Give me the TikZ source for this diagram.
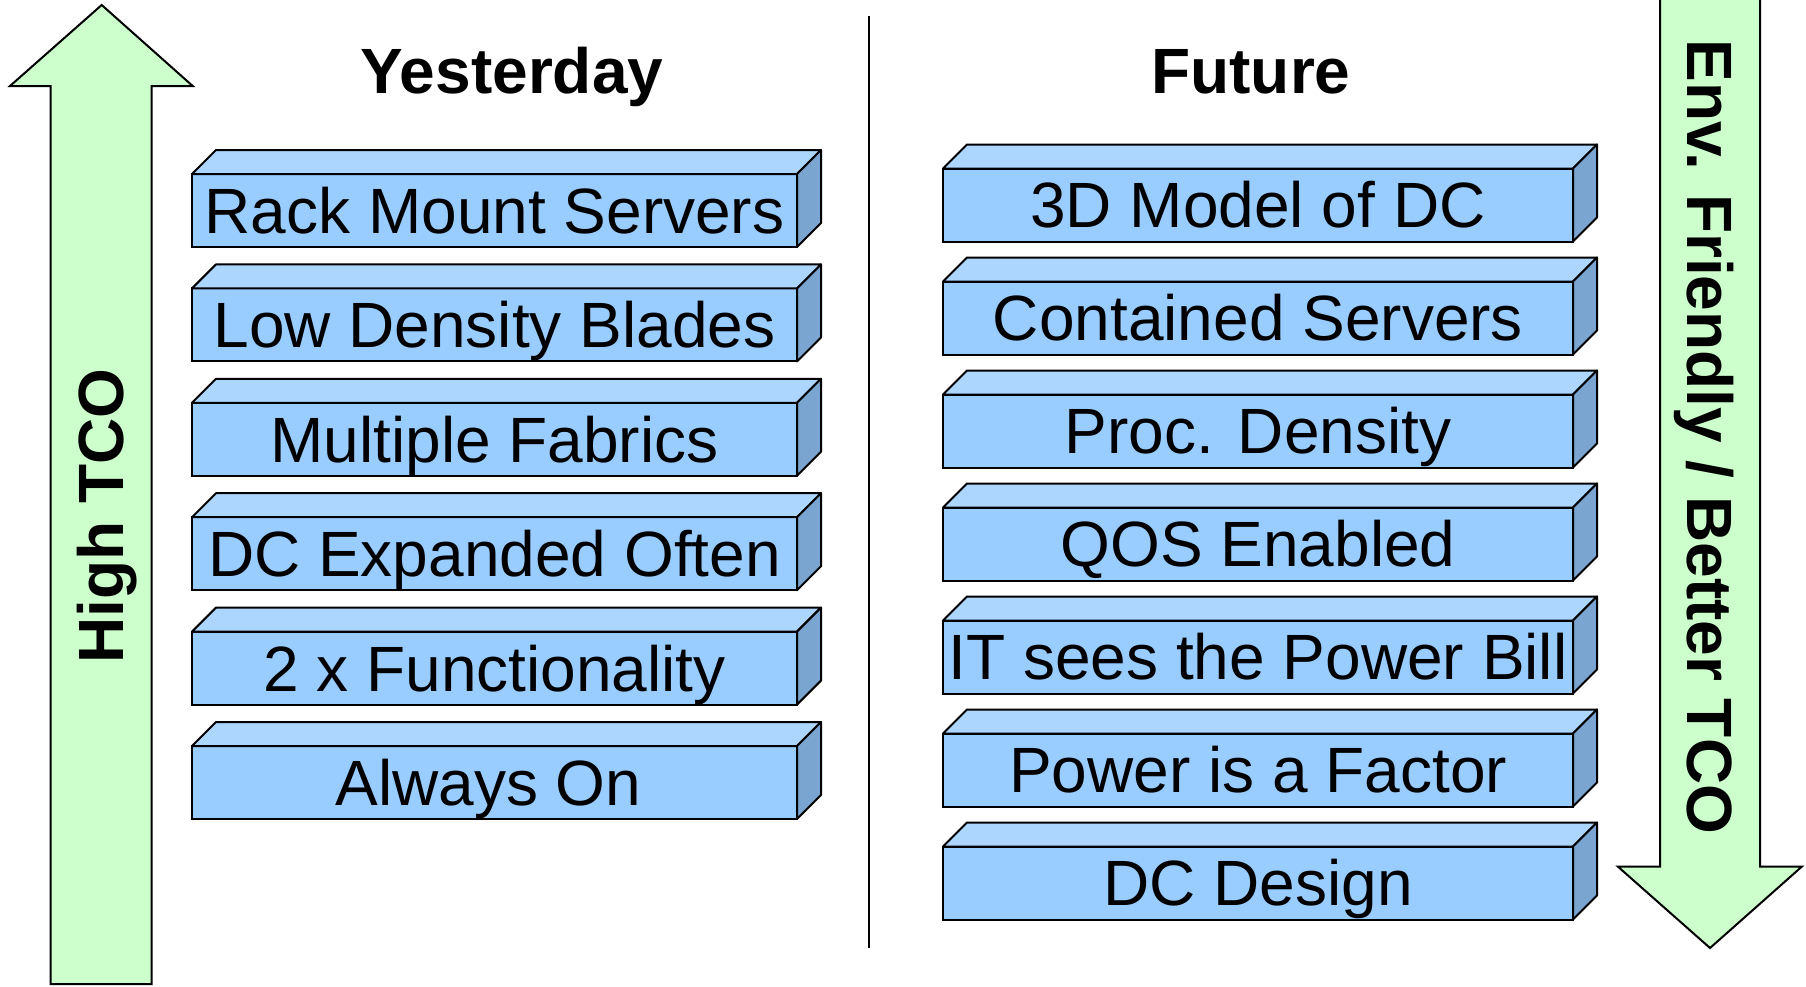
\documentclass[tikz,border=0pt]{standalone}
\usepackage{fontspec}
\setmainfont{Liberation Sans}
\usetikzlibrary{calc}
\definecolor{slabfront}{HTML}{99CCFF}
\definecolor{slabtop}{HTML}{ADD6FF}
\definecolor{slabside}{HTML}{7AA5D0}
\definecolor{arrowfill}{HTML}{CCFFCC}
\tikzset{
  slab/.style={draw, line width=2pt, fill=slabfront, rectangle, outer sep=0pt,
    inner sep=0pt, minimum height=73pt, text height=45.8pt, text depth=0pt,
    font=\fontsize{64}{70}\selectfont},
  slabtopface/.style={draw, line width=2pt, fill=slabtop, line join=round},
  slabsideface/.style={draw, line width=2pt, fill=slabside, line join=round},
  bigarrow/.style={draw, line width=2pt, fill=arrowfill, line join=miter},
  heading/.style={font=\fontsize{64}{70}\selectfont\bfseries, inner sep=0pt, anchor=base},
  arrowlabel/.style={font=\fontsize{64}{70}\selectfont\bfseries, inner sep=0pt,
    text height=45.8pt, text depth=0pt},
  divider/.style={line width=1.6pt}
}
% draws the top and side faces of a slab behind its front node
\newcommand{\slabdepth}[1]{%
  \draw[slabtopface] (#1.north west) -- ([shift={(24,-24)}]#1.north west)
    -- ([shift={(24,-24)}]#1.north east) -- (#1.north east) -- cycle;
  \draw[slabsideface] (#1.north east) -- ([shift={(24,-24)}]#1.north east)
    -- ([shift={(24,-24)}]#1.south east) -- (#1.south east) -- cycle;
}
\begin{document}
\begin{tikzpicture}[x=1pt, y=-1pt]
\useasboundingbox (0,0) rectangle (1806,986);

% rising arrow on the left
\draw[bigarrow] (101.7,5) -- (192.7,86) -- (151.7,86) -- (151.7,984)
  -- (50.7,984) -- (50.7,86) -- (10,86) -- cycle;
\node[arrowlabel, rotate=90] (hightco) at (101,516) {High TCO};

% falling arrow on the right
\draw[bigarrow] (1660,-6) -- (1660,866.7) -- (1618,866.7) -- (1710,948)
  -- (1801.7,866.7) -- (1760,866.7) -- (1760,-6) -- cycle;
\node[arrowlabel, rotate=-90] (envtco) at (1710,437) {Env. Friendly / Better TCO};

% column divider
\coordinate (divtop) at (869,16);
\coordinate (divbot) at (869,948);
\draw[divider] (divtop) -- (divbot);

% headings
\node[heading] (yesterday) at (512,93) {Yesterday};
\node[heading] (future) at (1251,93) {Future};

% left column
\foreach \t [count=\i] in {Rack Mount Servers, Low Density Blades, Multiple Fabrics,
    DC Expanded Often, 2 x Functionality}{
  \node[slab, minimum width=605pt] (y\i) at (494.5,{210.5+114.4*(\i-1)}) {\t};
  \slabdepth{y\i}
}
\node[slab, minimum width=605pt] (y6) at (494.5,782.5)
  {\hspace*{-12pt}Always On};
\slabdepth{y6}

% right column
\foreach \t [count=\i] in {3D Model of DC, Contained Servers, Proc. Density,
    QOS Enabled, IT sees the Power Bill, Power is a Factor, DC Design}{
  \node[slab, minimum width=630pt] (f\i) at (1258,{205+113*(\i-1)}) {\t};
  \slabdepth{f\i}
}
\end{tikzpicture}
\end{document}
